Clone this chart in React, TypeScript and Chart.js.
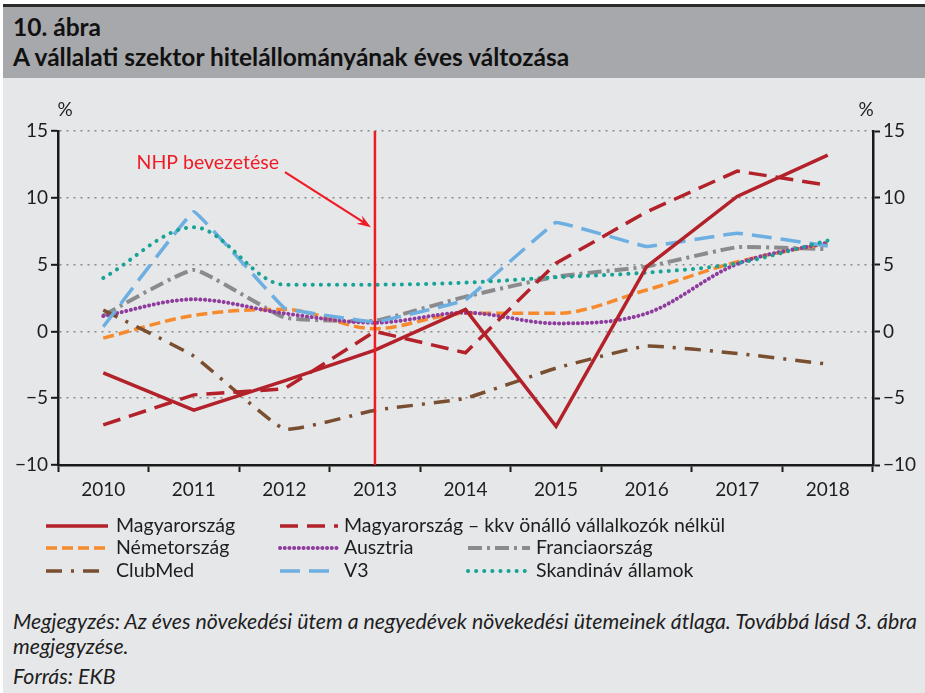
import React, { useEffect, useRef } from "react";
import { Chart, registerables } from "chart.js";

Chart.register(...registerables);

const years = ["2010", "2011", "2012", "2013", "2014", "2015", "2016", "2017", "2018"];
const magyar = [-3.1, -5.9, -3.7, -1.4, 1.65, -7.1, 4.85, 10.1, 13.2];
const magyarKkv = [-7.0, -4.75, -4.3, 0.0, -1.6, 5.1, 8.95, 12.0, 10.95];
const nemet = [-0.5, 1.2, 1.65, 0.2, 1.35, 1.35, 3.1, 5.2, 6.6];
const ausztria = [1.15, 2.4, 1.35, 0.65, 1.4, 0.6, 1.35, 5.05, 6.65];
const francia = [1.2, 4.6, 1.05, 0.8, 2.6, 4.1, 4.85, 6.3, 6.15];
const clubmed = [1.6, -1.85, -7.3, -5.9, -5.0, -2.75, -1.1, -1.65, -2.45];
const v3 = [0.35, 8.95, 1.75, 0.7, 2.35, 8.15, 6.35, 7.35, 6.4];
const skandinav = [4.0, 7.8, 3.5, 3.5, 3.65, 4.05, 4.4, 5.1, 6.8];

const yTicks = [-10, -5, 0, 5, 10, 15];
const nhpYear = "2013";
const nhpLabel = "NHP bevezetése";
const unitLabel = "%";

const FONT = "Lato, 'Open Sans', sans-serif";
const TEXT = "#1e1e1e";

const fmt = (v: number) => (v < 0 ? "\u2212" + Math.abs(v) : String(v));

// legend layout: [datasetIndex, col, row]
const legendLayout: [number, number, number][] = [
  [0, 0, 0],
  [1, 1, 0],
  [2, 0, 1],
  [3, 1, 1],
  [4, 2, 1],
  [5, 0, 2],
  [6, 1, 2],
  [7, 2, 2],
];
const legendCols = [
  { x0: 46, x1: 108, tx: 116 },
  { x0: 280, x1: 338, tx: 344 },
  { x0: 468, x1: 530, tx: 536 },
];
const legendRows = [436, 458, 481];

const overlayPlugin = {
  id: "overlay",
  afterDatasetsDraw(chart: any) {
    const { ctx, chartArea, scales } = chart;
    const xs = scales.x;
    const ys = scales.y;
    const xi = years.indexOf(nhpYear);
    const xv = xs.getPixelForValue(xi);
    ctx.save();
    ctx.strokeStyle = "#ee1c25";
    ctx.lineWidth = 2.5;
    ctx.setLineDash([]);
    ctx.beginPath();
    ctx.moveTo(xv, chartArea.top);
    ctx.lineTo(xv, chartArea.bottom);
    ctx.stroke();
    ctx.fillStyle = "#ee1c25";
    ctx.font = `19.5px ${FONT}`;
    ctx.textAlign = "right";
    ctx.textBaseline = "middle";
    const lblY = ys.getPixelForValue(12.6);
    ctx.fillText(nhpLabel, xv - 96, lblY);
    const sx = xv - 90;
    const sy = lblY + 9;
    const ex = xv - 4;
    const ey = ys.getPixelForValue(7.8);
    ctx.lineWidth = 2.2;
    ctx.beginPath();
    ctx.moveTo(sx, sy);
    ctx.lineTo(ex - 6, ey - 4);
    ctx.stroke();
    const ang = Math.atan2(ey - sy, ex - sx);
    ctx.beginPath();
    ctx.moveTo(ex, ey);
    ctx.lineTo(ex - 14 * Math.cos(ang) + 5 * Math.sin(ang), ey - 14 * Math.sin(ang) - 5 * Math.cos(ang));
    ctx.lineTo(ex - 9 * Math.cos(ang), ey - 9 * Math.sin(ang));
    ctx.lineTo(ex - 14 * Math.cos(ang) - 5 * Math.sin(ang), ey - 14 * Math.sin(ang) + 5 * Math.cos(ang));
    ctx.closePath();
    ctx.fill();
    ctx.restore();
  },
  afterDraw(chart: any) {
    const { ctx, chartArea } = chart;
    ctx.save();
    ctx.fillStyle = TEXT;
    ctx.font = `19px ${FONT}`;
    ctx.textAlign = "center";
    ctx.textBaseline = "middle";
    ctx.fillText(unitLabel, chartArea.left + 7, chartArea.top - 21);
    ctx.fillText(unitLabel, chartArea.right - 7, chartArea.top - 21);
    legendLayout.forEach(([di, c, r]) => {
      const ds = chart.data.datasets[di];
      const col = legendCols[c];
      const y = legendRows[r];
      ctx.strokeStyle = ds.borderColor;
      ctx.lineWidth = ds.borderWidth;
      ctx.lineCap = ds.borderCapStyle || "butt";
      ctx.setLineDash(ds.borderDash || []);
      ctx.beginPath();
      ctx.moveTo(col.x0, y);
      ctx.lineTo(col.x1, y);
      ctx.stroke();
      ctx.setLineDash([]);
      ctx.fillStyle = TEXT;
      ctx.font = `19.5px ${FONT}`;
      ctx.textAlign = "left";
      ctx.textBaseline = "middle";
      ctx.fillText(ds.label, col.tx, y);
    });
    ctx.restore();
  },
};

function LineChart() {
  const ref = useRef<HTMLCanvasElement | null>(null);
  useEffect(() => {
    if (!ref.current) return;
    const mk = (label: string, data: number[], color: string, width: number, dash: number[], cap: string, tension: number, order: number, mono = false) => ({
      label,
      data,
      borderColor: color,
      backgroundColor: color,
      borderWidth: width,
      borderDash: dash,
      borderCapStyle: cap,
      borderJoinStyle: "miter",
      pointRadius: 0,
      tension,
      cubicInterpolationMode: mono ? "monotone" : "default",
      fill: false,
      order,
      yAxisID: "y",
    });
    const chart = new Chart(ref.current, {
      type: "line",
      data: {
        labels: years,
        datasets: [
          mk("Magyarország", magyar, "#b3222a", 3.5, [], "butt", 0, 0),
          mk("Magyarország \u2013 kkv önálló vállalkozók nélkül", magyarKkv, "#b3222a", 3.5, [18, 9], "butt", 0, 1),
          mk("Németország", nemet, "#f68a2c", 3.5, [11, 5], "butt", 0.3, 6, true),
          mk("Ausztria", ausztria, "#8e3c9e", 4, [0.1, 4.6], "round", 0.3, 5, true),
          mk("Franciaország", francia, "#8b8b8d", 4, [14, 5, 3, 5], "butt", 0.12, 7),
          mk("ClubMed", clubmed, "#7a4e30", 3.5, [16, 9, 3, 9], "butt", 0.12, 4),
          mk("V3", v3, "#6cafe0", 3.5, [20, 9], "butt", 0.05, 3),
          mk("Skandináv államok", skandinav, "#17a396", 4, [0.1, 8], "round", 0.3, 2, true),
        ],
      },
      options: {
        animation: false,
        responsive: false,
        maintainAspectRatio: false,
        layout: { padding: { top: 41, left: 0, right: 0, bottom: 0 } },
        plugins: { legend: { display: false }, tooltip: { enabled: false }, title: { display: false } },
        scales: {
          x: {
            type: "category",
            offset: true,
            afterFit: (s: any) => { s.height = 125; },
            grid: { offset: true, drawOnChartArea: false, drawTicks: true, tickLength: 7, tickWidth: 2, tickColor: "#1a1a1a" },
            border: { display: true, color: "#1a1a1a", width: 2.5 },
            ticks: { color: TEXT, font: { family: FONT, size: 19 }, padding: 6, maxRotation: 0 },
          },
          y: {
            position: "left",
            min: -10,
            max: 15,
            afterFit: (s: any) => { s.width = 58; },
            afterBuildTicks: (s: any) => { s.ticks = yTicks.map((v) => ({ value: v })); },
            grid: {
              drawOnChartArea: true,
              drawTicks: true,
              tickLength: 7,
              tickWidth: 2,
              tickColor: "#1a1a1a",
              color: "#8a8a8a",
              lineWidth: 1.6,
            },
            border: { display: true, color: "#1a1a1a", width: 2.5, dash: [2, 5] },
            ticks: { color: TEXT, font: { family: FONT, size: 19 }, padding: 3, callback: (v: any) => fmt(Number(v)) },
          },
          y2: {
            position: "right",
            min: -10,
            max: 15,
            afterFit: (s: any) => { s.width = 52; },
            afterBuildTicks: (s: any) => { s.ticks = yTicks.map((v) => ({ value: v })); },
            grid: { drawOnChartArea: false, drawTicks: true, tickLength: 7, tickWidth: 2, tickColor: "#1a1a1a" },
            border: { display: true, color: "#1a1a1a", width: 2.5 },
            ticks: { color: TEXT, font: { family: FONT, size: 19 }, padding: 3, callback: (v: any) => fmt(Number(v)) },
          },
        },
      } as any,
      plugins: [overlayPlugin],
    } as any);
    return () => chart.destroy();
  }, []);
  return <canvas ref={ref} width={925} height={500} style={{ position: "absolute", left: 0, top: 90, width: 925, height: 500 }} />;
}

export default function App() {
  return (
    <div style={{ position: "absolute", left: 0, top: 0, width: 925, height: 693, background: "#ffffff", overflow: "hidden", fontFamily: FONT }}>
      <div style={{ position: "absolute", left: 3, top: 4, width: 922, height: 3, background: "#2b2b2b" }} />
      <div style={{ position: "absolute", left: 3, top: 7, width: 922, height: 71, background: "#a7a8ab" }} />
      <div style={{ position: "absolute", left: 3, top: 78, width: 922, height: 615, background: "#e6e7e9" }} />
      <div style={{ position: "absolute", left: 13, top: 12, fontWeight: 700, fontSize: 24.5, lineHeight: "30px", color: "#111", whiteSpace: "nowrap" }}>
        10. ábra
        <br />
        A vállalati szektor hitelállományának éves változása
      </div>
      <LineChart />
      <div style={{ position: "absolute", left: 13, top: 609, fontStyle: "italic", fontSize: 21.3, lineHeight: "25px", color: "#1e1e1e", whiteSpace: "nowrap" }}>
        Megjegyzés: Az éves növekedési ütem a negyedévek növekedési ütemeinek átlaga. Továbbá lásd 3. ábra
        <br />
        megjegyzése.
      </div>
      <div style={{ position: "absolute", left: 13, top: 664, fontStyle: "italic", fontSize: 21.3, lineHeight: "25px", color: "#1e1e1e", whiteSpace: "nowrap" }}>
        Forrás: EKB
      </div>
    </div>
  );
}
